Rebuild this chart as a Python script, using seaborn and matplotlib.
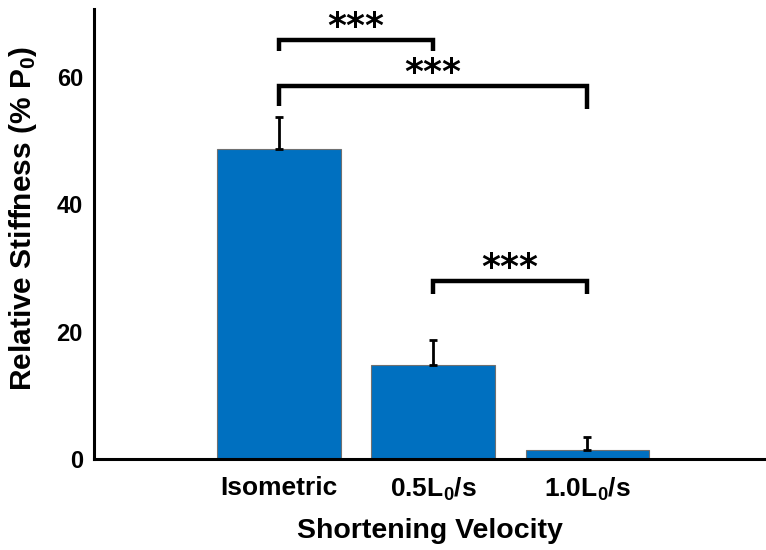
import matplotlib
matplotlib.use("Agg")
import matplotlib.pyplot as plt
import seaborn as sns
import pandas as pd

# Stiffness relative to isometric force, mean and upper SEM per condition
conditions = ["Isometric", "0.5L$_0$/s", "1.0L$_0$/s"]
stiffness = [48.6, 14.7, 1.4]
sem = [5.1, 4.0, 2.1]

# Significance comparisons: (first index, second index, bracket height, tick bottoms)
pairs = [(0, 1), (0, 2), (1, 2)]
bracket_y = [65.8, 58.5, 28.0]
tick_bottom = [(64.0, 64.0), (55.4, 55.0), (25.9, 25.9)]
stars = ["***", "***", "***"]

sns.set_style("white")
plt.rcParams["font.family"] = ["Liberation Sans", "DejaVu Sans"]
plt.rcParams["font.weight"] = "bold"
plt.rcParams["text.color"] = "black"
plt.rcParams["axes.labelcolor"] = "black"
plt.rcParams["xtick.color"] = "black"
plt.rcParams["ytick.color"] = "black"
plt.rcParams["mathtext.fontset"] = "custom"
plt.rcParams["mathtext.rm"] = "Liberation Sans:bold"
plt.rcParams["mathtext.it"] = "Liberation Sans:bold"
plt.rcParams["mathtext.bf"] = "Liberation Sans:bold"
plt.rcParams["mathtext.default"] = "rm"

df = pd.DataFrame({"condition": conditions, "stiffness": stiffness})

fig = plt.figure(figsize=(7.66, 5.5), dpi=100)
ax = fig.add_axes([94 / 766, 91 / 550, 1 - 94 / 766, (459 - 8.5) / 550])

sns.barplot(data=df, x="condition", y="stiffness", color="#0070C0",
            saturation=1, width=0.8, edgecolor="#707070", linewidth=0.8,
            errorbar=None, ax=ax)

# upper-only error bars centred on each bar
xs = [p.get_x() + p.get_width() / 2 for p in ax.patches]
ax.errorbar(xs, stiffness, yerr=[[0] * len(sem), sem], fmt="none",
            ecolor="black", elinewidth=2, capsize=3, capthick=2, zorder=3)

# significance brackets
for (i, j), y, (b1, b2), s in zip(pairs, bracket_y, tick_bottom, stars):
    ax.plot([i, i, j, j], [b1, y, y, b2], color="black", lw=3.2,
            solid_capstyle="butt", solid_joinstyle="miter", clip_on=False)
    ax.text((i + j) / 2, y + 0.45, s, ha="center", va="baseline",
            fontsize=26, fontweight="bold", color="black",
            family=["DejaVu Sans"])

ax.set_xlim(-1.2, 3.16)
ax.set_ylim(0, 70.7)
ax.set_yticks([0, 20, 40, 60])
ax.tick_params(axis="y", labelsize=17, length=0, pad=8, colors="black")
ax.tick_params(axis="x", labelsize=19, length=0, pad=12, colors="black")
for lab in ax.get_xticklabels() + ax.get_yticklabels():
    lab.set_fontweight("bold")

ax.set_xlabel("Shortening Velocity", fontsize=20.5, fontweight="bold",
              labelpad=11, color="black")
ax.set_ylabel("Relative Stiffness (% P$_0$)", fontsize=21.5, fontweight="bold",
              color="black")
ax.yaxis.set_label_coords(-0.082, 0.535)

sns.despine(ax=ax, top=True, right=True)
ax.spines["left"].set_linewidth(2.2)
ax.spines["bottom"].set_linewidth(2.2)
ax.spines["left"].set_color("black")
ax.spines["bottom"].set_color("black")

fig.savefig("out.png", dpi=100)
